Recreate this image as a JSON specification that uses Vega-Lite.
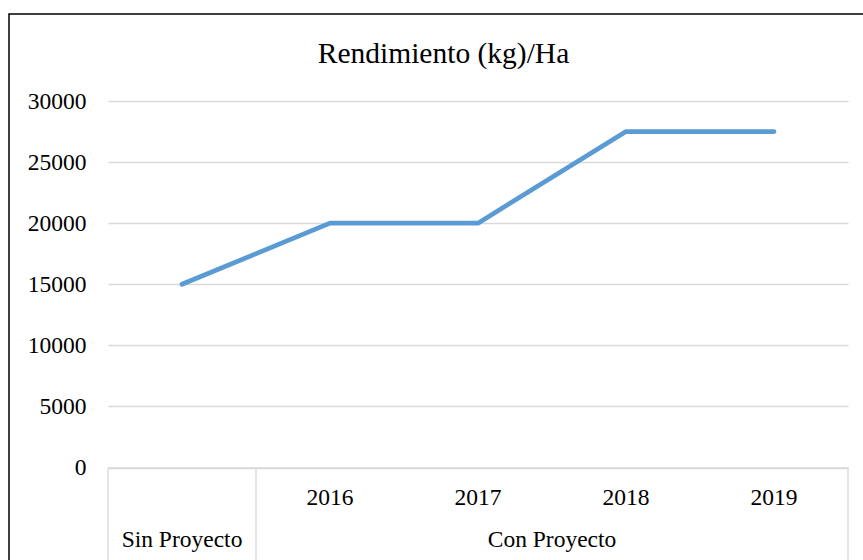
{
  "$schema": "https://vega.github.io/schema/vega-lite/v6.json",
  "width": 869,
  "height": 560,
  "autosize": {"type": "none"},
  "padding": {"left": 9, "top": 14, "right": 0, "bottom": 0},
  "background": "white",
  "view": {"stroke": "black", "strokeWidth": 1.5, "fill": "white"},
  "title": {
    "text": "Rendimiento (kg)/Ha",
    "font": "Liberation Serif",
    "fontSize": 29.5,
    "fontWeight": "normal",
    "color": "black",
    "anchor": "middle",
    "frame": "group",
    "baseline": "middle",
    "offset": -69
  },
  "config": {"font": "Liberation Serif"},
  "data": {
    "values": [
      {"periodo": "Sin Proyecto", "grupo": "Sin Proyecto", "valor": 15000},
      {"periodo": "2016", "grupo": "Con Proyecto", "valor": 20000},
      {"periodo": "2017", "grupo": "Con Proyecto", "valor": 20000},
      {"periodo": "2018", "grupo": "Con Proyecto", "valor": 27500},
      {"periodo": "2019", "grupo": "Con Proyecto", "valor": 27500}
    ]
  },
  "layer": [
    {
      "mark": {"type": "line", "color": "#5b9bd5", "strokeWidth": 4.7, "strokeCap": "round", "strokeJoin": "round"},
      "encoding": {
        "x": {
          "field": "periodo", "type": "ordinal", "sort": null, "bandPosition": 0.5, "title": null,
          "scale": {"type": "band", "domain": ["Sin Proyecto", "2016", "2017", "2018", "2019"], "range": [99, 839], "paddingInner": 0, "paddingOuter": 0},
          "axis": {
            "orient": "bottom", "offset": -106.5, "domainColor": "#d9d9d9", "domainWidth": 1.3,
            "ticks": false, "tickSize": 0, "labelPadding": 29.5, "labelBaseline": "middle",
            "labelFontSize": 23.5, "labelColor": "black", "labelFont": "Liberation Serif", "labelAngle": 0,
            "labelExpr": "datum.value == 'Sin Proyecto' ? '' : datum.value", "grid": false
          }
        },
        "y": {
          "field": "valor", "type": "quantitative", "title": null,
          "scale": {"domain": [0, 30000], "range": [453.5, 87], "nice": false, "zero": true},
          "axis": {
            "offset": -99, "values": [0, 5000, 10000, 15000, 20000, 25000, 30000], "format": "d",
            "domain": false, "ticks": false, "tickSize": 0, "labelPadding": 22,
            "labelFontSize": 23.5, "labelColor": "black", "labelFont": "Liberation Serif",
            "grid": true, "gridColor": "#d9d9d9", "gridWidth": 1.3
          }
        }
      }
    },
    {
      "data": {"values": [{"periodo": "Sin Proyecto"}, {"periodo": "2016"}]},
      "mark": {"type": "rule", "color": "#d9d9d9", "strokeWidth": 1.3},
      "encoding": {
        "x": {"field": "periodo", "type": "ordinal", "bandPosition": 0, "title": null,
              "scale": {"type": "band", "domain": ["Sin Proyecto", "2016", "2017", "2018", "2019"], "range": [99, 839], "paddingInner": 0, "paddingOuter": 0}},
        "y": {"datum": 0, "title": null},
        "y2": {"datum": -8000}
      }
    },
    {
      "data": {"values": [{"periodo": "2019"}]},
      "mark": {"type": "rule", "color": "#d9d9d9", "strokeWidth": 1.3},
      "encoding": {
        "x": {"field": "periodo", "type": "ordinal", "bandPosition": 1, "title": null,
              "scale": {"type": "band", "domain": ["Sin Proyecto", "2016", "2017", "2018", "2019"], "range": [99, 839], "paddingInner": 0, "paddingOuter": 0}},
        "y": {"datum": 0, "title": null},
        "y2": {"datum": -8000}
      }
    },
    {
      "data": {"values": [{"periodo": "Sin Proyecto", "grupo": "Sin Proyecto"}]},
      "mark": {"type": "text", "fontSize": 23.5, "font": "Liberation Serif", "color": "black", "baseline": "middle", "align": "center"},
      "encoding": {
        "x": {"field": "periodo", "type": "ordinal", "bandPosition": 0.5, "title": null,
              "scale": {"type": "band", "domain": ["Sin Proyecto", "2016", "2017", "2018", "2019"], "range": [99, 839], "paddingInner": 0, "paddingOuter": 0}},
        "y": {"datum": -5900, "title": null},
        "text": {"field": "grupo"}
      }
    },
    {
      "data": {"values": [{"periodo": "2017", "grupo": "Con Proyecto"}]},
      "mark": {"type": "text", "fontSize": 23.5, "font": "Liberation Serif", "color": "black", "baseline": "middle", "align": "center"},
      "encoding": {
        "x": {"field": "periodo", "type": "ordinal", "bandPosition": 1, "title": null,
              "scale": {"type": "band", "domain": ["Sin Proyecto", "2016", "2017", "2018", "2019"], "range": [99, 839], "paddingInner": 0, "paddingOuter": 0}},
        "y": {"datum": -5900, "title": null},
        "text": {"field": "grupo"}
      }
    }
  ]
}
